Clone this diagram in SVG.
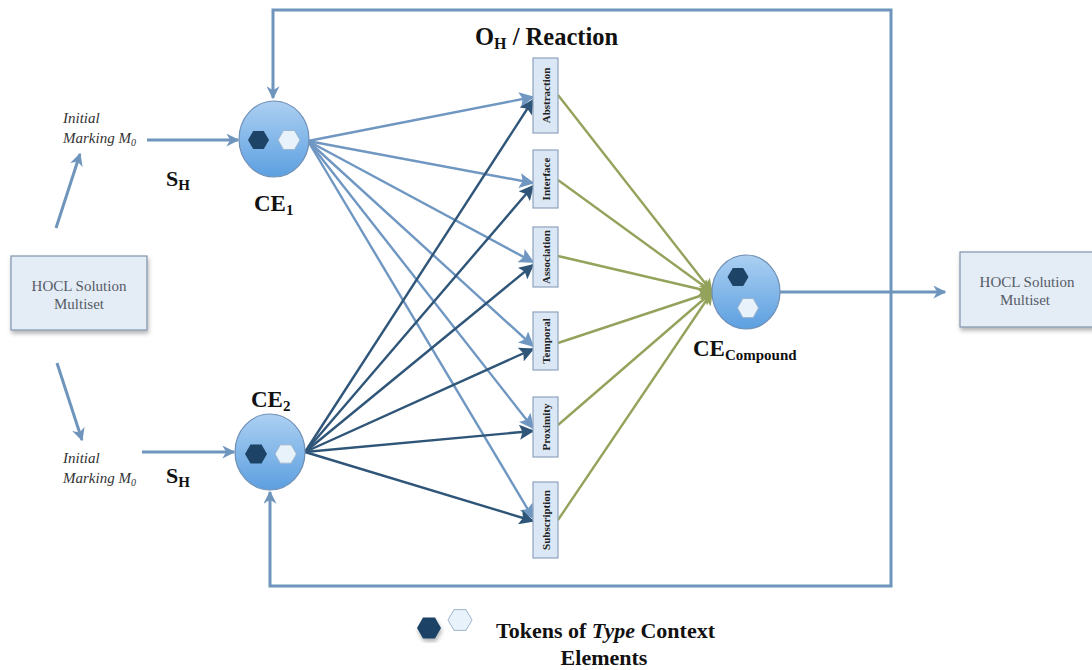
<svg xmlns="http://www.w3.org/2000/svg" width="1092" height="670" viewBox="0 0 1092 670">
  <style>
    .lbl { font-family: "Liberation Serif", "Times New Roman", serif; font-weight: bold; fill: #111; }
    .ital { font-family: "Liberation Serif", "Times New Roman", serif; font-style: italic; font-size: 15px; fill: #333; }
    .boxtxt { font-family: "Liberation Serif", "Times New Roman", serif; font-size: 15px; fill: #555b66; text-anchor: middle; }
    .rtxt { font-family: "Liberation Serif", "Times New Roman", serif; font-size: 11px; font-weight: bold; fill: #222; text-anchor: middle; }
    .rbox { fill: #dbe7f4; stroke: #8ea3bc; stroke-width: 1.2; }
    .hbox { fill: #e4ecf6; stroke: #7f93ab; stroke-width: 1.2; }
    .ce { fill: url(#ceGrad); stroke: #6f8fb5; stroke-width: 1.2; }
    .hexD { fill: #1d4366; }
    .hexL { fill: #e8f2fa; stroke: #9db6cf; stroke-width: 1; }
    .loop { fill: none; stroke: #6f95bd; stroke-width: 3; }
    .lite { stroke: #6f97c2; stroke-width: 2.4; fill: none; }
    .dark { stroke: #2f5578; stroke-width: 2.4; fill: none; }
    .grn { stroke: #94a35c; stroke-width: 2.4; fill: none; }
  </style>
  <defs>
    <linearGradient id="ceGrad" x1="0" y1="0" x2="0" y2="1">
      <stop offset="0" stop-color="#acd0f2"/>
      <stop offset="1" stop-color="#5c9fe0"/>
    </linearGradient>
    <filter id="shadow" x="-10%" y="-10%" width="125%" height="130%">
      <feDropShadow dx="1" dy="3" stdDeviation="2" flood-color="#000" flood-opacity="0.3"/>
    </filter>
    <marker id="aLoop" viewBox="0 0 10 10" refX="9" refY="5" markerWidth="13" markerHeight="13" markerUnits="userSpaceOnUse" orient="auto">
      <path d="M0,0 L10,5 L0,10 L3,5 Z" fill="#6f95bd"/>
    </marker>
    <marker id="aLite" viewBox="0 0 10 10" refX="9" refY="5" markerWidth="15" markerHeight="15" markerUnits="userSpaceOnUse" orient="auto">
      <path d="M0,0 L10,5 L0,10 L2,5 Z" fill="#6f97c2"/>
    </marker>
    <marker id="aDark" viewBox="0 0 10 10" refX="9" refY="5" markerWidth="15" markerHeight="15" markerUnits="userSpaceOnUse" orient="auto">
      <path d="M0,0 L10,5 L0,10 L2,5 Z" fill="#2f5578"/>
    </marker>
    <marker id="aGrn" viewBox="0 0 10 10" refX="9" refY="5" markerWidth="14" markerHeight="14" markerUnits="userSpaceOnUse" orient="auto">
      <path d="M0,0 L10,5 L0,10 L2,5 Z" fill="#94a35c"/>
    </marker>
  </defs>

  <rect width="1092" height="670" fill="#ffffff"/>

  <!-- connectors -->
  <g id="connectors">
    <!-- feedback loops into CE1 and CE2 -->
    <path class="loop" d="M891,300 V10 H273 V98" marker-end="url(#aLoop)"/>
    <path class="loop" d="M891,300 V586 H270 V492" marker-end="url(#aLoop)"/>
    <!-- initial marking -->
    <line class="loop" x1="56" y1="228" x2="80" y2="154" marker-end="url(#aLoop)"/>
    <line class="loop" x1="57" y1="363" x2="82" y2="440" marker-end="url(#aLoop)"/>
    <line class="loop" x1="147" y1="140" x2="238" y2="140" marker-end="url(#aLoop)"/>
    <line class="loop" x1="142" y1="452" x2="234" y2="452" marker-end="url(#aLoop)"/>
    <!-- CE1 fan -->
    <line class="lite" x1="308" y1="141" x2="533" y2="97" marker-end="url(#aLite)"/>
    <line class="lite" x1="308" y1="141" x2="533" y2="183" marker-end="url(#aLite)"/>
    <line class="lite" x1="308" y1="141" x2="533" y2="262" marker-end="url(#aLite)"/>
    <line class="lite" x1="308" y1="141" x2="533" y2="346" marker-end="url(#aLite)"/>
    <line class="lite" x1="308" y1="141" x2="533" y2="428" marker-end="url(#aLite)"/>
    <line class="lite" x1="308" y1="141" x2="533" y2="518" marker-end="url(#aLite)"/>
    <!-- CE2 fan -->
    <line class="dark" x1="305" y1="452" x2="533" y2="100" marker-end="url(#aDark)"/>
    <line class="dark" x1="305" y1="452" x2="533" y2="186" marker-end="url(#aDark)"/>
    <line class="dark" x1="305" y1="452" x2="533" y2="265" marker-end="url(#aDark)"/>
    <line class="dark" x1="305" y1="452" x2="533" y2="349" marker-end="url(#aDark)"/>
    <line class="dark" x1="305" y1="452" x2="533" y2="431" marker-end="url(#aDark)"/>
    <line class="dark" x1="305" y1="452" x2="533" y2="521" marker-end="url(#aDark)"/>
    <!-- reactions into compound -->
    <line class="grn" x1="558" y1="95" x2="712" y2="292" marker-end="url(#aGrn)"/>
    <line class="grn" x1="558" y1="180" x2="712" y2="292" marker-end="url(#aGrn)"/>
    <line class="grn" x1="558" y1="256" x2="712" y2="292" marker-end="url(#aGrn)"/>
    <line class="grn" x1="558" y1="343" x2="712" y2="292" marker-end="url(#aGrn)"/>
    <line class="grn" x1="558" y1="425" x2="712" y2="292" marker-end="url(#aGrn)"/>
    <line class="grn" x1="558" y1="520" x2="712" y2="292" marker-end="url(#aGrn)"/>
    <!-- compound to output -->
    <line class="loop" x1="780" y1="292" x2="945" y2="292" marker-end="url(#aLoop)"/>
  </g>

  <!-- input multiset -->
  <g id="hocl-in">
    <rect class="hbox" x="11" y="256" width="136" height="74" filter="url(#shadow)"/>
    <text class="boxtxt" x="79" y="291">HOCL Solution</text>
    <text class="boxtxt" x="79" y="309">Multiset</text>
  </g>

  <!-- output multiset -->
  <g id="hocl-out">
    <rect class="hbox" x="960" y="252" width="140" height="75" filter="url(#shadow)"/>
    <text class="boxtxt" x="1027" y="287">HOCL Solution</text>
    <text class="boxtxt" x="1025" y="305">Multiset</text>
  </g>

  <!-- initial marking labels -->
  <g id="marking-top">
    <text class="ital" x="63" y="123">Initial</text>
    <text class="ital" x="63" y="143">Marking M<tspan font-size="10" dy="3">0</tspan></text>
    <text class="lbl" x="166" y="186" font-size="22">S<tspan font-size="15" dy="4">H</tspan></text>
  </g>
  <g id="marking-bottom">
    <text class="ital" x="63" y="463">Initial</text>
    <text class="ital" x="63" y="483">Marking M<tspan font-size="10" dy="3">0</tspan></text>
    <text class="lbl" x="166" y="483" font-size="22">S<tspan font-size="15" dy="4">H</tspan></text>
  </g>

  <!-- context element 1 -->
  <g id="ce1">
    <ellipse class="ce" cx="274" cy="139" rx="35" ry="38"/>
    <polygon class="hexD" points="248,140 253.2,131 263.8,131 269,140 263.8,149 253.2,149"/>
    <polygon class="hexL" points="278,140 283.5,130.5 294.5,130.5 300,140 294.5,149.5 283.5,149.5"/>
    <text class="lbl" x="254" y="211" font-size="23">CE<tspan font-size="15" dy="4">1</tspan></text>
  </g>

  <!-- context element 2 -->
  <g id="ce2">
    <ellipse class="ce" cx="270" cy="452" rx="35" ry="38"/>
    <polygon class="hexD" points="245,454 250.5,444.5 261.5,444.5 267,454 261.5,463.5 250.5,463.5"/>
    <polygon class="hexL" points="275,454 280.3,444.8 291.2,444.8 296.5,454 291.2,463.2 280.3,463.2"/>
    <text class="lbl" x="251" y="407" font-size="23">CE<tspan font-size="15" dy="4">2</tspan></text>
  </g>

  <!-- reaction operators -->
  <g id="title">
    <text class="lbl" x="475" y="45" font-size="24.5">O<tspan font-size="16" dy="4">H</tspan><tspan dy="-4"> / Reaction</tspan></text>
  </g>
  <g id="r-abstraction">
    <rect class="rbox" x="533" y="58" width="25" height="75"/>
    <text class="rtxt" transform="translate(549.5,95.5) rotate(-90)">Abstraction</text>
  </g>
  <g id="r-interface">
    <rect class="rbox" x="533" y="150" width="25" height="58"/>
    <text class="rtxt" transform="translate(549.5,179) rotate(-90)">Interface</text>
  </g>
  <g id="r-association">
    <rect class="rbox" x="533" y="227" width="25" height="60"/>
    <text class="rtxt" transform="translate(549.5,257) rotate(-90)">Association</text>
  </g>
  <g id="r-temporal">
    <rect class="rbox" x="533" y="312" width="25" height="58"/>
    <text class="rtxt" transform="translate(549.5,341) rotate(-90)">Temporal</text>
  </g>
  <g id="r-proximity">
    <rect class="rbox" x="533" y="397" width="25" height="60"/>
    <text class="rtxt" transform="translate(549.5,427) rotate(-90)">Proximity</text>
  </g>
  <g id="r-subscription">
    <rect class="rbox" x="533" y="482" width="25" height="76"/>
    <text class="rtxt" transform="translate(549.5,520) rotate(-90)">Subscription</text>
  </g>

  <!-- compound context element -->
  <g id="ce-compound">
    <ellipse class="ce" cx="746" cy="292" rx="34" ry="37"/>
    <polygon class="hexD" points="727.5,277 732.8,268 743.2,268 748.5,277 743.2,286 732.8,286"/>
    <polygon class="hexL" points="737.5,308 742.8,298.5 753.2,298.5 758.5,308 753.2,317.5 742.8,317.5"/>
    <text class="lbl" x="693" y="356" font-size="23">CE<tspan font-size="15" dy="4">Compound</tspan></text>
  </g>

  <!-- legend -->
  <g id="legend">
    <polygon class="hexD" points="417,628 423,617.6 435,617.6 441,628 435,638.4 423,638.4" filter="url(#shadow)"/>
    <polygon class="hexL" points="448,620 454,609.6 466,609.6 472,620 466,630.4 454,630.4"/>
    <text class="lbl" x="496" y="638" font-size="22">Tokens of <tspan font-style="italic">Type</tspan> Context</text>
    <text class="lbl" x="604" y="665" font-size="22" text-anchor="middle">Elements</text>
  </g>
</svg>
